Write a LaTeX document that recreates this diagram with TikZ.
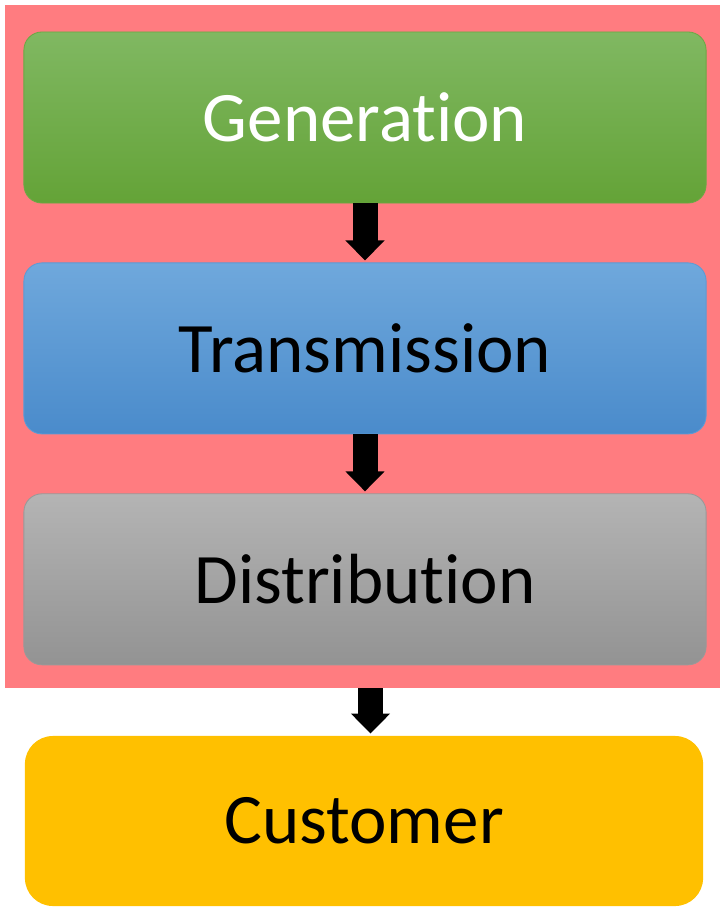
\documentclass[tikz,border=0pt]{standalone}
\usepackage{fontspec}
\setmainfont{Carlito}[Ligatures={NoCommon,NoRare}]
\usetikzlibrary{positioning,arrows.meta,calc}

\definecolor{bgred}{HTML}{FF7C80}
\definecolor{gentop}{HTML}{80B862}
\definecolor{genbot}{HTML}{64A337}
\definecolor{gendraw}{HTML}{6BA845}
\definecolor{trtop}{HTML}{6FA8DC}
\definecolor{trbot}{HTML}{4A8BCB}
\definecolor{trdraw}{HTML}{5B9BD5}
\definecolor{disttop}{HTML}{B4B4B4}
\definecolor{distbot}{HTML}{939393}
\definecolor{distdraw}{HTML}{999999}
\definecolor{custfill}{HTML}{FFC000}

\tikzset{
  stage/.style={rounded corners=0.45cm, minimum width=17.05cm, minimum height=4.275cm,
    inner sep=0pt, font=\fontsize{50.5}{60}\selectfont, line width=0.6pt},
  flow/.style={line width=0.625cm, -{Triangle[width=0.95cm,length=0.5cm]}, shorten >=0.05cm}
}

\begin{document}
\begin{tikzpicture}[x=0.025cm,y=-0.025cm]

\useasboundingbox (0,0) rectangle (720,908);

% background
\fill [bgred] (5,5) rectangle (720,688);
\coordinate (bgbot) at (370.5,688);

\node [stage, draw=gendraw, top color=gentop, bottom color=genbot, text=white] (gen) at (365,117.5) {Generation};
\node [stage, draw=trdraw, top color=trtop, bottom color=trbot, below=1.475cm of gen] (trans) {Transmission};
\node [stage, draw=distdraw, top color=disttop, bottom color=distbot, below=1.475cm of trans] (dist) {Distribution};
\node [stage, fill=custfill, rounded corners=0.7cm, minimum width=16.95cm, minimum height=4.25cm] (cust) at (364,821) {Customer};

\draw [flow] (gen.south) -- (trans.north);
\draw [flow] (trans.south) -- (dist.north);
\draw [flow] (bgbot) -- (bgbot |- cust.north);

\end{tikzpicture}
\end{document}
